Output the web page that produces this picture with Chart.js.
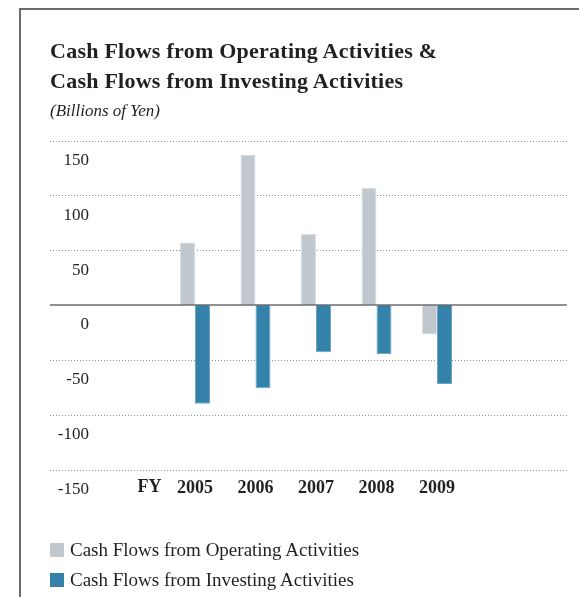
<!DOCTYPE html>
<html>
<head>
<meta charset="utf-8">
<script src="https://cdn.jsdelivr.net/npm/chart.js@4.4.1/dist/chart.umd.min.js"></script>
<style>
  body { margin: 0; background: #fff; font-family: "Liberation Serif", serif; color: #231f20; }
  #wrap { position: relative; width: 579px; height: 597px; overflow: hidden; }
  #frame { position: absolute; left: 19px; top: 8px; width: 600px; height: 600px;
           border-left: 2px solid #6b6b6b; border-top: 2px solid #6b6b6b; }
  canvas { position: absolute; left: 0; top: 0; }
  .title { position: absolute; left: 50px; top: 36px; font-size: 22px; font-weight: bold; line-height: 30px; letter-spacing: 0.25px; }
  .sub { position: absolute; left: 50px; top: 101px; font-size: 17px; font-style: italic; line-height: 20px; }
  .legend { position: absolute; left: 50px; top: 535px; font-size: 19px; }
  .legend div { height: 30px; line-height: 30px; position: relative; padding-left: 20px; }
  .legend span { position: absolute; left: 0; top: 8px; width: 14px; height: 14px; }
</style>
</head>
<body>
<div id="wrap">
  <div id="frame"></div>
  <canvas id="cf" width="579" height="597"></canvas>
  <div class="title">Cash Flows from Operating Activities &amp;<br>Cash Flows from Investing Activities</div>
  <div class="sub">(Billions of Yen)</div>
  <div class="legend">
    <div><span style="background:#c0c8cd"></span>Cash Flows from Operating Activities</div>
    <div><span style="background:#3482aa"></span>Cash Flows from Investing Activities</div>
  </div>
</div>
<script>
const years = ['2005', '2006', '2007', '2008', '2009'];
const operating = [57, 137, 65, 107, -27];
const investing = [-90, -76, -43, -45, -72];
const yTicks = [-150, -100, -50, 0, 50, 100, 150];

// dotted grid lines + solid zero line, drawn wider than the plot area
const gridPlugin = {
    id: 'grid',
    beforeDatasetsDraw(chart) {
        const ctx = chart.ctx;
        const y = chart.scales.y;
        ctx.save();
        ctx.strokeStyle = '#8c8c8c';
        ctx.lineWidth = 1;
        ctx.setLineDash([1, 2]);
        yTicks.forEach(v => {
            if (v === 0) return;
            const py = Math.round(y.getPixelForValue(v)) + 0.5;
            ctx.beginPath();
            ctx.moveTo(50, py);
            ctx.lineTo(567, py);
            ctx.stroke();
        });
        ctx.restore();
    },
    afterDatasetsDraw(chart) {
        const ctx = chart.ctx;
        const y = chart.scales.y;
        const x = chart.scales.x;
        const py = y.getPixelForValue(0);
        ctx.save();
        ctx.strokeStyle = '#6e6e6e';
        ctx.lineWidth = 1.5;
        ctx.beginPath();
        ctx.moveTo(50, py);
        ctx.lineTo(567, py);
        ctx.stroke();
        // "FY" in front of the year labels
        ctx.fillStyle = '#231f20';
        ctx.font = 'bold 18px "Liberation Serif"';
        ctx.textAlign = 'center';
        ctx.textBaseline = 'middle';
        ctx.fillText('FY', x.getPixelForValue(0) - 45.5, 487);
        ctx.restore();
    }
};

new Chart(document.getElementById('cf'), {
    type: 'bar',
    data: {
        labels: years,
        datasets: [
            {
                label: 'Cash Flows from Operating Activities',
                data: operating,
                backgroundColor: '#c0c8cd',
                borderColor: '#d9dfe2',
                borderWidth: 1
            },
            {
                label: 'Cash Flows from Investing Activities',
                data: investing,
                backgroundColor: '#3482aa',
                borderColor: '#6ea5c5',
                borderWidth: 1
            }
        ]
    },
    options: {
        responsive: false,
        animation: false,
        events: [],
        layout: { padding: { left: 0, right: 111.75, top: 140.5, bottom: 97.5 } },
        datasets: { bar: { categoryPercentage: 0.496, barPercentage: 1 } },
        plugins: {
            legend: { display: false },
            tooltip: { enabled: false }
        },
        scales: {
            x: {
                grid: { display: false },
                border: { display: false },
                ticks: {
                    color: '#231f20',
                    font: { family: 'Liberation Serif', size: 18, weight: 'bold' },
                    padding: 0
                },
                afterFit: s => { s.height = 30; }
            },
            y: {
                min: -150,
                max: 150,
                grid: { display: false, drawTicks: false },
                border: { display: false },
                ticks: {
                    stepSize: 50,
                    labelOffset: 20,
                    padding: 75.75,
                    color: '#231f20',
                    font: { family: 'Liberation Serif', size: 17 }
                },
                afterFit: s => { s.width = 164.75; }
            }
        }
    },
    plugins: [gridPlugin]
});
</script>
</body>
</html>
